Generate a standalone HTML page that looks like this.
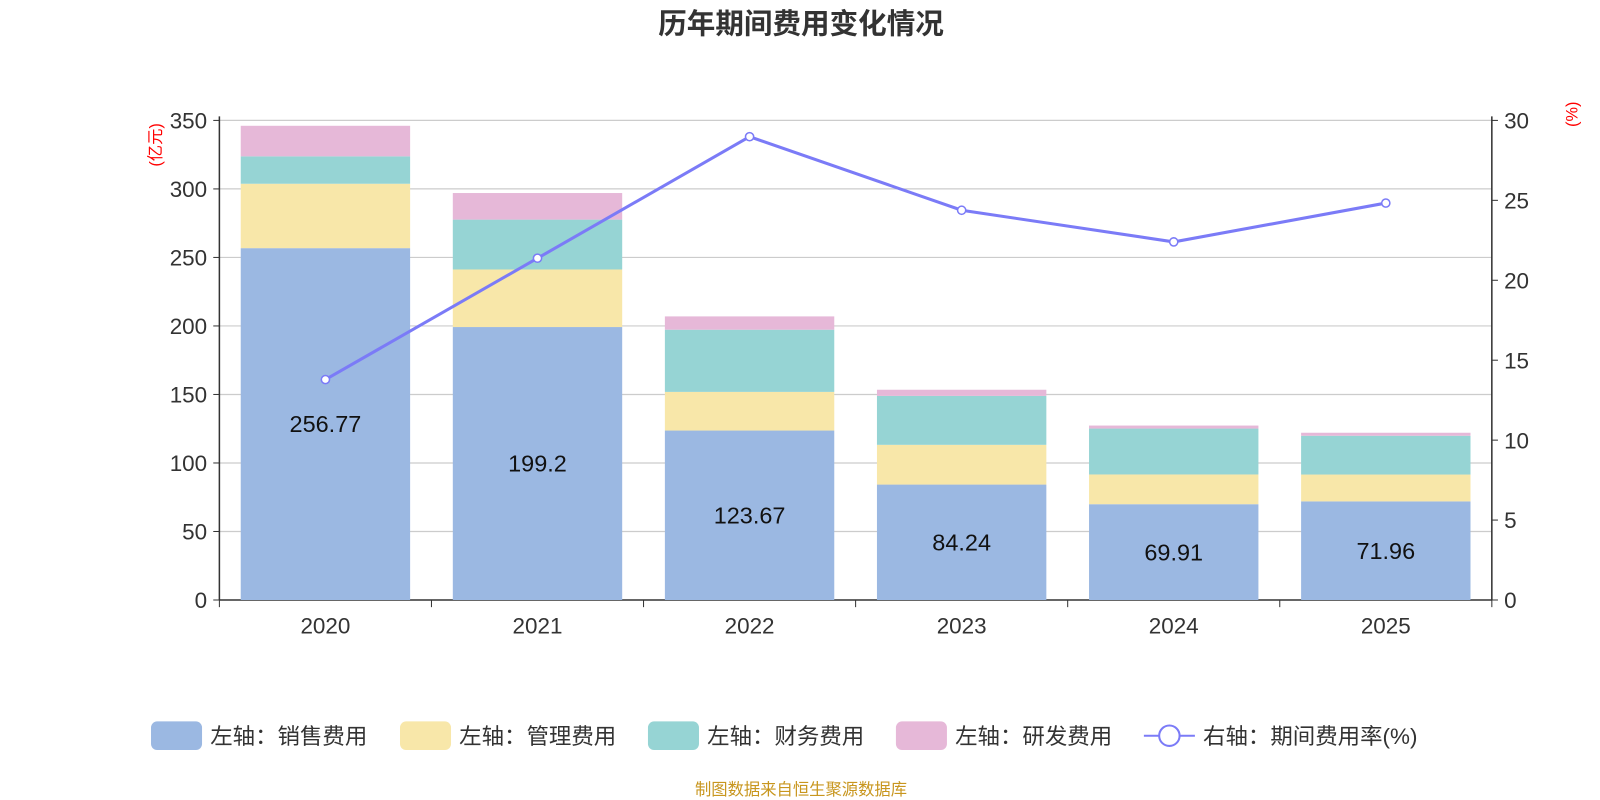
<!DOCTYPE html>
<html><head><meta charset="utf-8"><style>
body{margin:0;background:#fff;font-family:"Liberation Sans","Noto Sans CJK SC",sans-serif}
svg{display:block}
</style></head><body>
<svg id="c" width="1600" height="800" viewBox="0 0 1568 784" xmlns="http://www.w3.org/2000/svg" font-family="Liberation Sans, Noto Sans CJK SC, sans-serif">
<text x="785" y="33" text-anchor="middle" font-size="28" font-weight="bold" fill="#333">历年期间费用变化情况</text>
<text x="785" y="779" text-anchor="middle" font-size="16" fill="#c8961e">制图数据来自恒生聚源数据库</text>
<g id="plot"></g>
</svg>
<script>
const categories=["2020","2021","2022","2023","2024","2025"];
const sales=[256.77,199.2,123.67,84.24,69.91,71.96];
const admin=[47,42,28.2,29,21.7,19.6];
const finance=[20,36.4,45.4,35.7,33.5,28.3];
const rnd=[22.3,19.4,9.7,4.5,2.2,2.2];
const rate=[13.79,21.38,28.98,24.38,22.4,24.83];
const leftTicks=[0,50,100,150,200,250,300,350];
const rightTicks=[0,5,10,15,20,25,30];
const NS="http://www.w3.org/2000/svg";
const g=document.getElementById('plot');
const X0=215,X1=1462,Y0=588,Y1=118;
const band=(X1-X0)/categories.length,bw=166;
const yL=v=>Y0-(v/350)*(Y0-Y1);
const yR=v=>Y0-(v/30)*(Y0-Y1);
const xC=i=>X0+band*(i+0.5);
function el(t,a,txt){const e=document.createElementNS(NS,t);for(const k in a)e.setAttribute(k,a[k]);if(txt!=null)e.textContent=txt;g.appendChild(e);return e;}
leftTicks.forEach(v=>{
 const l=el('line',{x1:X0,x2:X1,y1:yL(v),y2:yL(v),stroke:v===0?'#333':'#ccc','stroke-width':v===0?1.5:1.2});
 
 
 const t=el('text',{x:X0-12,y:yL(v)+8,'text-anchor':'end','font-size':22,fill:'#333'},v);
 
 
 const k=el('line',{x1:X0-6,x2:X0,y1:yL(v),y2:yL(v),stroke:'#333'});
 
 
});
rightTicks.forEach(v=>{
 const t=el('text',{x:X1+12,y:yR(v)+8,'font-size':22,fill:'#333'},v);
 
 
 const k=el('line',{x1:X1,x2:X1+6,y1:yR(v),y2:yR(v),stroke:'#333'});
 
 
});
let a=el('line',{x1:X0,x2:X0,y1:Y1-4,y2:Y0,stroke:'#333','stroke-width':1.5});
a=el('line',{x1:X1,x2:X1,y1:Y1-4,y2:Y0,stroke:'#333','stroke-width':1.5});
a=el('text',{x:0,y:0,'font-size':16,fill:'red',transform:`translate(158,142) rotate(-90)`,'text-anchor':'middle'},'(亿元)');
a=el('text',{x:0,y:0,'font-size':16,fill:'red',transform:`translate(1546,112) rotate(-90)`,'text-anchor':'middle'},'(%)');
for(let i=0;i<=categories.length;i++){const k=el('line',{x1:X0+band*i,x2:X0+band*i,y1:Y0,y2:Y0+7,stroke:'#333'});}
const series=[[sales,'#9bb8e2','sales'],[admin,'#f8e7a9','admin'],[finance,'#96d4d4','finance'],[rnd,'#e6b8d8','rnd']];
categories.forEach((c,i)=>{
 let base=0;
 series.forEach(([arr,col,n])=>{
  const r=el('rect',{x:xC(i)-bw/2,y:yL(base+arr[i]),width:bw,height:yL(base)-yL(base+arr[i]),fill:col});
  
  
  base+=arr[i];
 });
 const t=el('text',{x:xC(i),y:(yL(sales[i])+Y0)/2+8,'text-anchor':'middle','font-size':23,fill:'#111'},sales[i]);
 
 
 const xl=el('text',{x:xC(i),y:Y0+33,'text-anchor':'middle','font-size':22,fill:'#333'},c);
 
 
});
const pl=el('polyline',{points:rate.map((v,i)=>xC(i)+','+yR(v)).join(' '),fill:'none',stroke:'#7b7bf7','stroke-width':3});


rate.forEach((v,i)=>{const p=el('circle',{cx:xC(i),cy:yR(v),r:4,fill:'#fff',stroke:'#7b7bf7','stroke-width':1.5});});
const leg=[['左轴：销售费用','#9bb8e2',148],['左轴：管理费用','#f8e7a9',392],['左轴：财务费用','#96d4d4',635],['左轴：研发费用','#e6b8d8',878]];
leg.forEach(([t,c,x])=>{
 const r=el('rect',{x:x,y:707,width:50,height:28,rx:6,fill:c});
 const tx=el('text',{x:x+58,y:729,'font-size':22,fill:'#333'},t);
});
let ll=el('line',{x1:1121,x2:1171,y1:721,y2:721,stroke:'#7b7bf7','stroke-width':2});
ll=el('circle',{cx:1146,cy:721,r:10,fill:'#fff',stroke:'#7b7bf7','stroke-width':2});
ll=el('text',{x:1179,y:729,'font-size':22,fill:'#333'},'右轴：期间费用率(%)');
</script>
</body></html>
